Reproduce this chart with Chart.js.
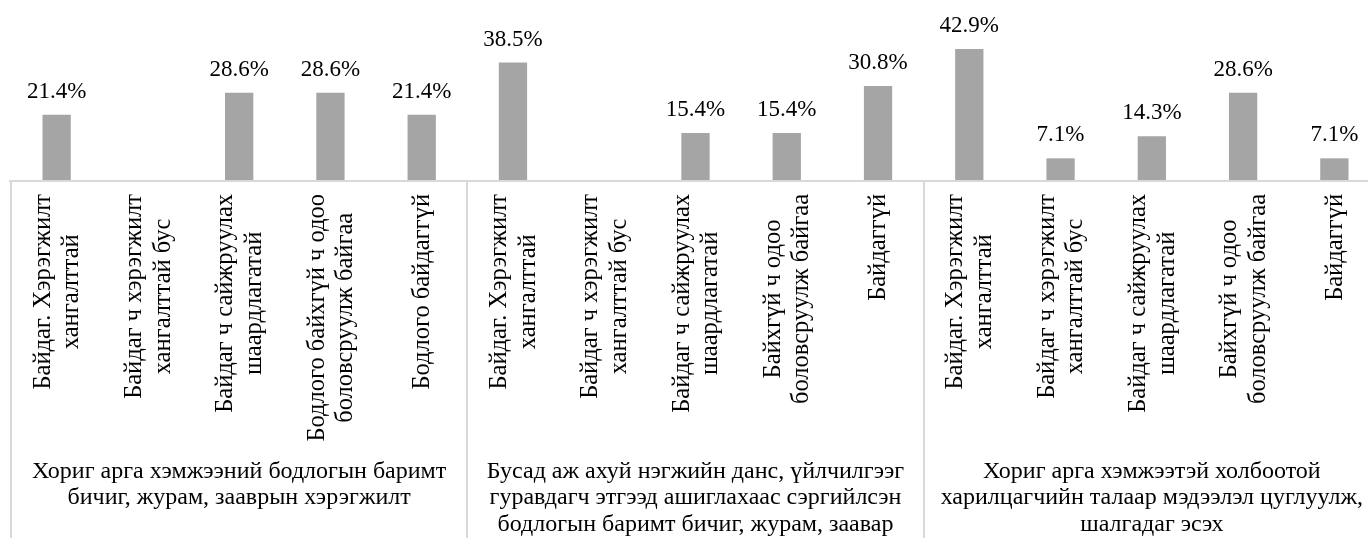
<!DOCTYPE html>
<html lang="mn">
<head>
<meta charset="utf-8">
<title>Хориг арга хэмжээний бодлого</title>
<script src="https://cdn.jsdelivr.net/npm/chart.js@4/dist/chart.umd.min.js"></script>
<style>
    html, body { margin: 0; padding: 0; background: #fff; overflow: hidden; }
    #wrap { position: relative; width: 1380px; height: 538px; }
</style>
</head>
<body>
<div id="wrap"><canvas id="sanctionChart"></canvas></div>
<script>
"use strict";

// --- ангилал бүрийн нэр (мөрөөр хуваасан) ---
const categoryLabels = [
    ["Байдаг. Хэрэгжилт", "хангалттай"],
    ["Байдаг ч хэрэгжилт", "хангалттай бус"],
    ["Байдаг ч сайжруулах", "шаардлагатай"],
    ["Бодлого байхгүй ч одоо", "боловсруулж байгаа"],
    ["Бодлого байдаггүй"],
    ["Байдаг. Хэрэгжилт", "хангалттай"],
    ["Байдаг ч хэрэгжилт", "хангалттай бус"],
    ["Байдаг ч сайжруулах", "шаардлагатай"],
    ["Байхгүй ч одоо", "боловсруулж байгаа"],
    ["Байдаггүй"],
    ["Байдаг. Хэрэгжилт", "хангалттай"],
    ["Байдаг ч хэрэгжилт", "хангалттай бус"],
    ["Байдаг ч сайжруулах", "шаардлагатай"],
    ["Байхгүй ч одоо", "боловсруулж байгаа"],
    ["Байдаггүй"]
];

// --- хувь (%) ; null = хариулт байхгүй ---
const percentValues = [21.4, null, 28.6, 28.6, 21.4, 38.5, null, 15.4, 15.4, 30.8, 42.9, 7.1, 14.3, 28.6, 7.1];

// --- бүлгийн гарчиг ---
const groupTitles = [
    ["Хориг арга хэмжээний бодлогын баримт", "бичиг, журам, зааврын хэрэгжилт"],
    ["Бусад аж ахуй нэгжийн данс, үйлчилгээг", "гуравдагч этгээд ашиглахаас сэргийлсэн", "бодлогын баримт бичиг, журам, заавар"],
    ["Хориг арга хэмжээтэй холбоотой", "харилцагчийн талаар мэдээлэл цуглуулж,", "шалгадаг эсэх"]
];
const groupSize = 5;

const SERIF = '"Liberation Serif", "Times New Roman", serif';
const VALUE_FONT = '23px ' + SERIF;
const CATEGORY_FONT = '24.5px ' + SERIF;
const GROUP_FONT = '24px ' + SERIF;
const TEXT_COLOR = '#000';
const LINE_COLOR = '#d9d9d9';

// тэнхлэг, хуваагч шугам, тэмдэглэгээг гараар зурна
const labelPlugin = {
    id: 'groupedAxisLabels',
    afterDatasetsDraw(chart) {
        const ctx = chart.ctx;
        const xScale = chart.scales.x;
        const area = chart.chartArea;
        const step = xScale.getPixelForValue(1) - xScale.getPixelForValue(0);
        const bottom = chart.height;

        ctx.save();

        // суурь шугам
        ctx.strokeStyle = LINE_COLOR;
        ctx.lineWidth = 2;
        ctx.beginPath();
        ctx.moveTo(9, area.bottom + 1);
        ctx.lineTo(chart.width, area.bottom + 1);
        ctx.stroke();

        // бүлэг хоорондын босоо шугам
        for (let g = 0; g <= groupTitles.length; g++) {
            const x = Math.round(xScale.getPixelForValue(g * groupSize) - step / 2);
            ctx.beginPath();
            ctx.moveTo(x, area.bottom + 1);
            ctx.lineTo(x, bottom);
            ctx.stroke();
        }

        ctx.fillStyle = TEXT_COLOR;

        // баганын дээрх утга
        const meta = chart.getDatasetMeta(0);
        ctx.font = VALUE_FONT;
        ctx.textAlign = 'center';
        ctx.textBaseline = 'alphabetic';
        meta.data.forEach((bar, i) => {
            const v = percentValues[i];
            if (v === null) return;
            ctx.fillText(v.toFixed(1) + '%', bar.x, bar.y - 17);
        });

        // эргүүлсэн ангиллын нэр
        const topY = 194;
        const lineGap = 28.5;
        ctx.font = CATEGORY_FONT;
        ctx.textBaseline = 'middle';
        categoryLabels.forEach((lines, i) => {
            const cx = xScale.getPixelForValue(i);
            const maxW = Math.max(...lines.map(l => ctx.measureText(l).width));
            const cy = topY + maxW / 2;
            lines.forEach((line, j) => {
                const lx = cx + (j - (lines.length - 1) / 2) * lineGap + 1;
                ctx.save();
                ctx.translate(lx, cy);
                ctx.rotate(-Math.PI / 2);
                ctx.fillText(line, 0, 0);
                ctx.restore();
            });
        });

        // бүлгийн гарчиг
        ctx.font = GROUP_FONT;
        ctx.textBaseline = 'alphabetic';
        groupTitles.forEach((lines, g) => {
            const first = xScale.getPixelForValue(g * groupSize);
            const last = xScale.getPixelForValue(g * groupSize + groupSize - 1);
            const gx = (first + last) / 2;
            lines.forEach((line, j) => {
                ctx.fillText(line, gx, 478 + j * 26.3);
            });
        });

        ctx.restore();
    }
};

function initializeChart() {
    const ctx = document.getElementById('sanctionChart').getContext('2d');

    return new Chart(ctx, {
        type: 'bar',
        data: {
            labels: categoryLabels,
            datasets: [{
                data: percentValues,
                backgroundColor: '#a5a5a5',
                borderWidth: 0,
                categoryPercentage: 1.0,
                barPercentage: 0.31
            }]
        },
        options: {
            responsive: true,
            maintainAspectRatio: false,
            animation: false,
            events: [],
            layout: { padding: { left: 11, right: 0, top: 0, bottom: 358 } },
            plugins: {
                legend: { display: false },
                tooltip: { enabled: false },
                title: { display: false }
            },
            scales: {
                x: { display: false, grid: { display: false } },
                y: { display: false, min: 0, max: 59 }
            }
        },
        plugins: [labelPlugin]
    });
}

document.addEventListener('DOMContentLoaded', initializeChart);
</script>
</body>
</html>
